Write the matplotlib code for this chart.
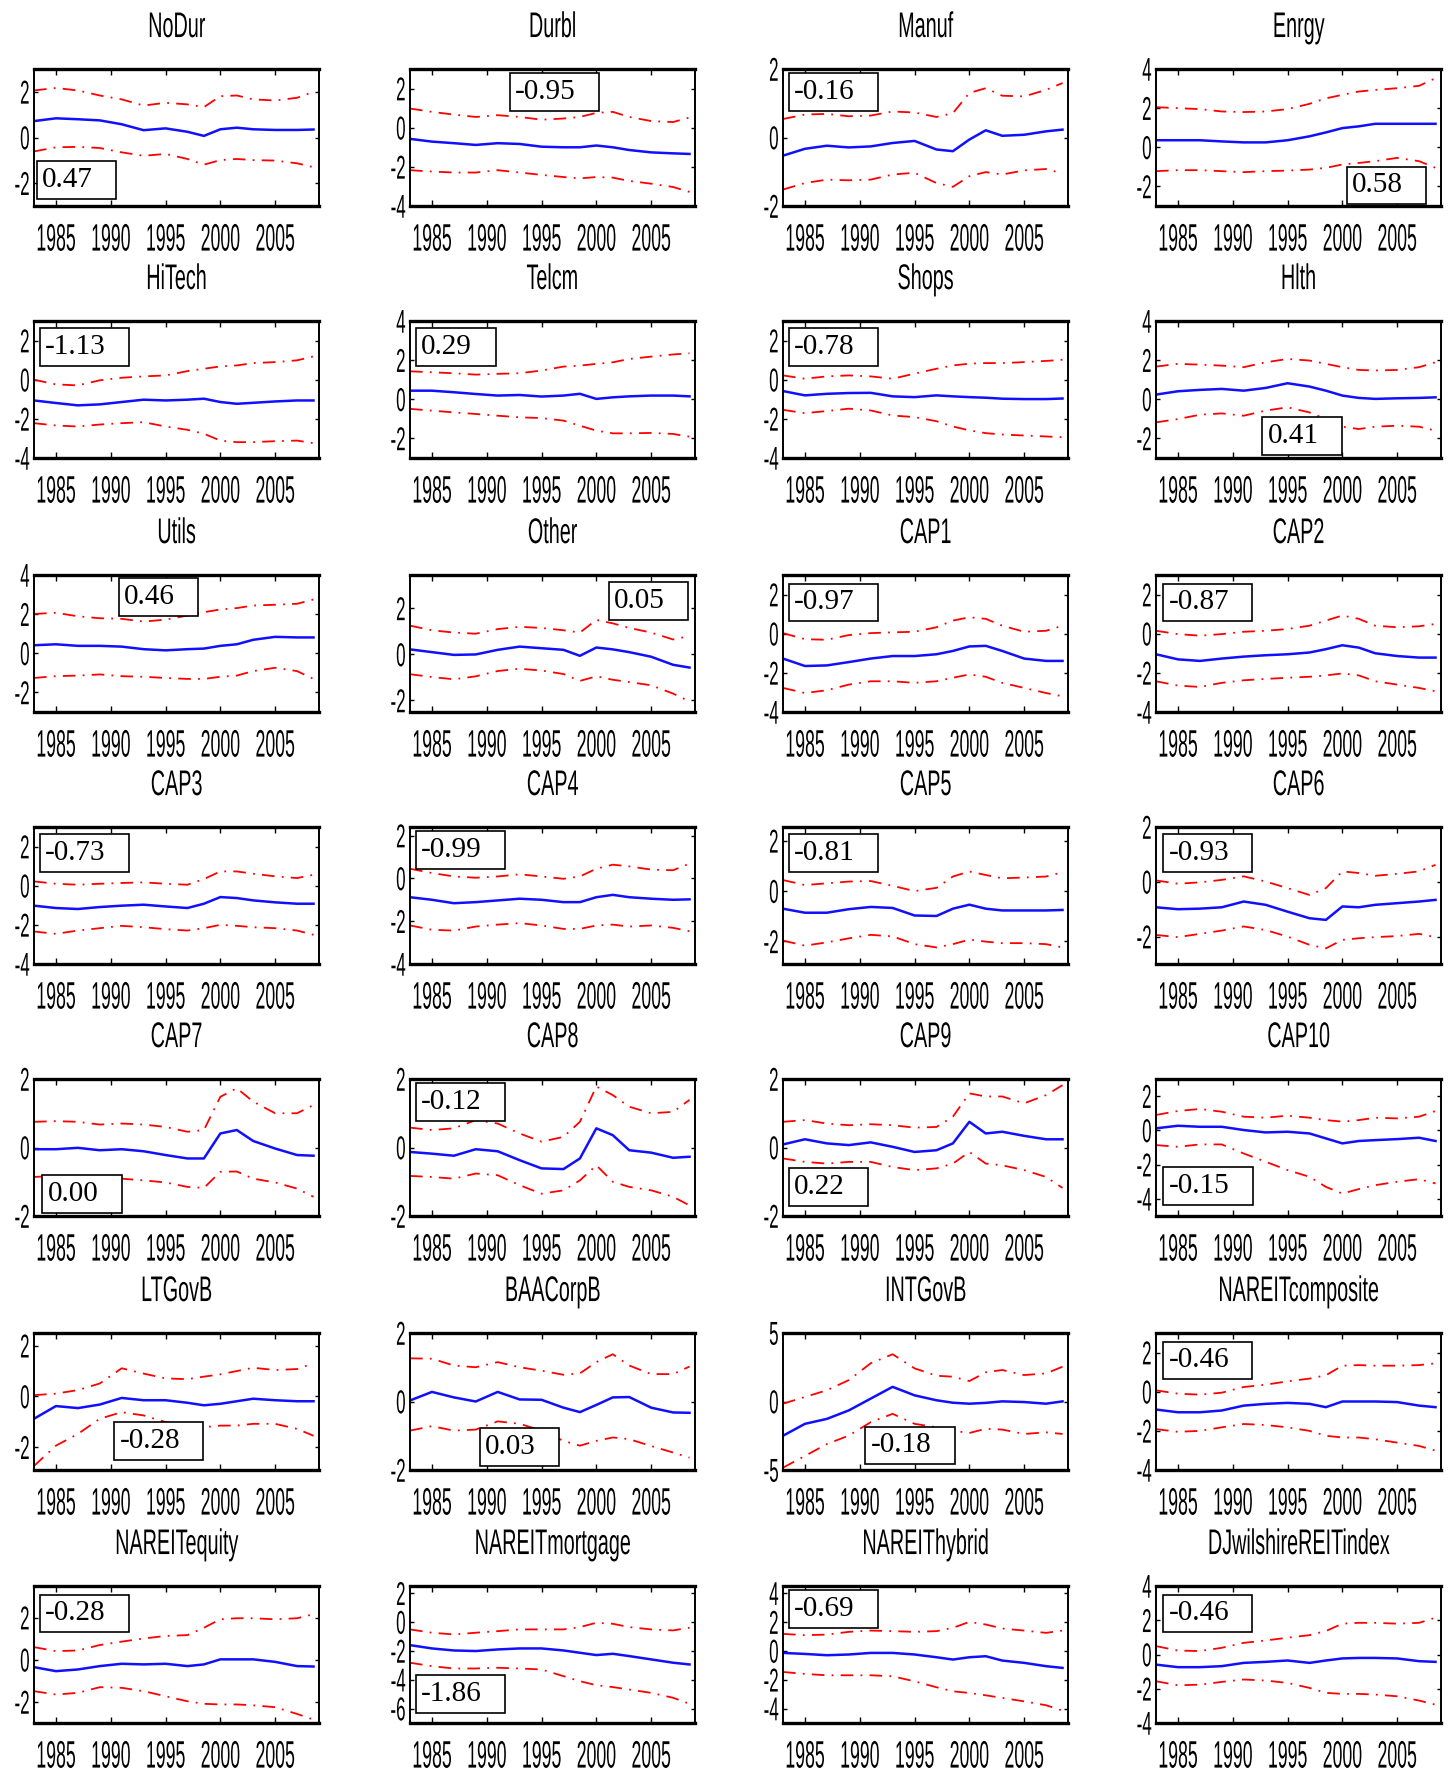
import matplotlib
matplotlib.use("Agg")
import matplotlib.pyplot as plt
from matplotlib.patheffects import AbstractPathEffect
from matplotlib.transforms import Affine2D
from matplotlib.path import Path

# ---------------- data ----------------
YEARS = [1983, 1985, 1987, 1989, 1991, 1993, 1995, 1997, 1998.5, 2000, 2001.5, 2003, 2005, 2007, 2008.5]
XTICKS = [1985, 1990, 1995, 2000, 2005]

NoDur_est = [0.72, 0.84, 0.80, 0.75, 0.58, 0.32, 0.40, 0.25, 0.07, 0.36, 0.43, 0.36, 0.33, 0.33, 0.35]
NoDur_hi = [2.06, 2.17, 2.06, 1.84, 1.67, 1.40, 1.52, 1.45, 1.33, 1.81, 1.84, 1.67, 1.62, 1.74, 2.00]
NoDur_lo = [-0.61, -0.43, -0.41, -0.46, -0.65, -0.80, -0.72, -0.94, -1.19, -0.99, -0.94, -0.99, -1.01, -1.13, -1.30]

Durbl_est = [-0.57, -0.71, -0.79, -0.88, -0.79, -0.83, -0.97, -1.00, -1.00, -0.91, -1.00, -1.14, -1.26, -1.31, -1.34]
Durbl_hi = [0.98, 0.81, 0.67, 0.55, 0.64, 0.55, 0.41, 0.47, 0.55, 0.76, 0.81, 0.55, 0.34, 0.29, 0.52]
Durbl_lo = [-2.17, -2.24, -2.29, -2.29, -2.17, -2.29, -2.41, -2.52, -2.59, -2.52, -2.55, -2.72, -2.86, -3.03, -3.28]

Manuf_est = [-0.53, -0.33, -0.24, -0.29, -0.26, -0.16, -0.10, -0.35, -0.40, -0.06, 0.21, 0.05, 0.08, 0.18, 0.23]
Manuf_hi = [0.54, 0.67, 0.69, 0.62, 0.64, 0.76, 0.73, 0.60, 0.71, 1.30, 1.44, 1.22, 1.20, 1.39, 1.59]
Manuf_lo = [-1.52, -1.33, -1.23, -1.25, -1.23, -1.08, -1.03, -1.33, -1.44, -1.13, -1.01, -1.08, -0.96, -0.92, -1.05]

Enrgy_est = [0.36, 0.36, 0.36, 0.30, 0.25, 0.25, 0.36, 0.56, 0.76, 0.98, 1.07, 1.20, 1.20, 1.20, 1.20]
Enrgy_hi = [2.05, 2.00, 1.95, 1.83, 1.80, 1.83, 1.95, 2.22, 2.50, 2.68, 2.85, 2.93, 3.02, 3.14, 3.53]
Enrgy_lo = [-1.22, -1.17, -1.17, -1.22, -1.27, -1.22, -1.19, -1.14, -1.05, -0.88, -0.80, -0.71, -0.54, -0.71, -1.05]

HiTech_est = [-1.06, -1.19, -1.31, -1.26, -1.14, -1.02, -1.06, -1.02, -0.97, -1.14, -1.23, -1.18, -1.11, -1.06, -1.06]
HiTech_hi = [0.00, -0.24, -0.29, -0.03, 0.10, 0.17, 0.22, 0.44, 0.56, 0.68, 0.73, 0.85, 0.90, 0.99, 1.19]
HiTech_lo = [-2.22, -2.34, -2.39, -2.29, -2.22, -2.17, -2.39, -2.56, -2.76, -3.11, -3.19, -3.19, -3.14, -3.11, -3.24]

Telcm_est = [0.44, 0.44, 0.36, 0.27, 0.19, 0.22, 0.14, 0.19, 0.28, 0.02, 0.10, 0.15, 0.19, 0.19, 0.15]
Telcm_hi = [1.43, 1.38, 1.33, 1.26, 1.30, 1.33, 1.47, 1.67, 1.72, 1.81, 1.89, 2.06, 2.18, 2.29, 2.35]
Telcm_lo = [-0.49, -0.58, -0.67, -0.75, -0.84, -0.92, -0.96, -1.09, -1.35, -1.60, -1.74, -1.74, -1.72, -1.77, -1.91]

Shops_est = [-0.58, -0.80, -0.72, -0.68, -0.67, -0.85, -0.89, -0.80, -0.85, -0.89, -0.92, -0.97, -0.99, -0.99, -0.96]
Shops_hi = [0.22, 0.05, 0.17, 0.22, 0.17, 0.05, 0.31, 0.56, 0.73, 0.82, 0.85, 0.85, 0.90, 0.96, 1.02]
Shops_lo = [-1.54, -1.71, -1.60, -1.48, -1.57, -1.83, -1.91, -2.12, -2.39, -2.59, -2.73, -2.80, -2.85, -2.90, -2.94]

Hlth_est = [0.24, 0.41, 0.48, 0.53, 0.44, 0.58, 0.82, 0.65, 0.44, 0.19, 0.07, 0.02, 0.05, 0.07, 0.10]
Hlth_hi = [1.67, 1.81, 1.77, 1.72, 1.64, 1.89, 2.06, 1.98, 1.81, 1.64, 1.50, 1.47, 1.50, 1.64, 1.89]
Hlth_lo = [-1.18, -1.01, -0.79, -0.72, -0.84, -0.58, -0.41, -0.67, -1.01, -1.40, -1.52, -1.40, -1.35, -1.40, -1.60]

Utils_est = [0.41, 0.46, 0.38, 0.38, 0.34, 0.21, 0.15, 0.21, 0.24, 0.38, 0.46, 0.69, 0.84, 0.81, 0.81]
Utils_hi = [2.01, 2.07, 1.89, 1.79, 1.76, 1.62, 1.72, 1.93, 2.10, 2.24, 2.31, 2.44, 2.48, 2.53, 2.75]
Utils_lo = [-1.26, -1.17, -1.14, -1.08, -1.17, -1.20, -1.26, -1.31, -1.31, -1.20, -1.14, -0.91, -0.74, -0.91, -1.31]

Other_est = [0.22, 0.10, -0.02, 0.00, 0.20, 0.34, 0.27, 0.20, -0.06, 0.30, 0.22, 0.10, -0.10, -0.45, -0.57]
Other_hi = [1.25, 1.05, 0.95, 0.90, 1.10, 1.20, 1.15, 1.05, 0.95, 1.50, 1.35, 1.15, 0.95, 0.65, 0.80]
Other_lo = [-0.86, -0.98, -1.08, -0.95, -0.72, -0.62, -0.70, -0.85, -1.15, -0.95, -1.10, -1.20, -1.34, -1.70, -2.04]

CAP1_est = [-1.27, -1.65, -1.62, -1.45, -1.27, -1.14, -1.14, -1.05, -0.88, -0.65, -0.62, -0.88, -1.27, -1.39, -1.39]
CAP1_hi = [0.03, -0.28, -0.31, -0.07, 0.03, 0.07, 0.10, 0.33, 0.67, 0.84, 0.76, 0.41, 0.10, 0.15, 0.41]
CAP1_lo = [-2.77, -3.03, -2.89, -2.60, -2.43, -2.43, -2.51, -2.43, -2.25, -2.08, -2.20, -2.51, -2.77, -3.03, -3.20]

CAP2_est = [-1.05, -1.31, -1.39, -1.27, -1.17, -1.10, -1.05, -0.96, -0.79, -0.59, -0.71, -1.00, -1.14, -1.22, -1.22]
CAP2_hi = [0.15, -0.02, -0.10, -0.02, 0.10, 0.15, 0.24, 0.41, 0.67, 0.93, 0.76, 0.41, 0.33, 0.38, 0.50]
CAP2_lo = [-2.43, -2.65, -2.72, -2.51, -2.38, -2.31, -2.25, -2.20, -2.13, -2.03, -2.13, -2.43, -2.60, -2.77, -2.94]

CAP3_est = [-1.02, -1.14, -1.19, -1.09, -1.02, -0.97, -1.06, -1.14, -0.92, -0.58, -0.63, -0.75, -0.85, -0.92, -0.92]
CAP3_hi = [0.22, 0.10, 0.05, 0.10, 0.14, 0.17, 0.10, 0.05, 0.34, 0.73, 0.73, 0.61, 0.48, 0.39, 0.56]
CAP3_lo = [-2.34, -2.46, -2.29, -2.17, -2.05, -2.12, -2.22, -2.29, -2.17, -2.00, -2.05, -2.12, -2.17, -2.29, -2.51]

CAP4_est = [-0.88, -1.00, -1.16, -1.11, -1.03, -0.95, -1.00, -1.11, -1.11, -0.88, -0.77, -0.88, -0.95, -1.00, -0.98]
CAP4_hi = [0.45, 0.25, 0.09, 0.03, 0.09, 0.19, 0.09, -0.02, 0.09, 0.45, 0.64, 0.56, 0.41, 0.38, 0.69]
CAP4_lo = [-2.20, -2.40, -2.44, -2.25, -2.16, -2.09, -2.20, -2.36, -2.36, -2.20, -2.16, -2.25, -2.20, -2.31, -2.47]

CAP5_est = [-0.70, -0.86, -0.86, -0.72, -0.63, -0.67, -0.97, -0.99, -0.70, -0.54, -0.70, -0.77, -0.77, -0.77, -0.75]
CAP5_hi = [0.44, 0.24, 0.31, 0.38, 0.40, 0.21, 0.00, 0.13, 0.58, 0.78, 0.64, 0.51, 0.54, 0.58, 0.75]
CAP5_lo = [-1.97, -2.17, -2.04, -1.88, -1.74, -1.80, -2.11, -2.24, -2.11, -1.93, -2.01, -2.07, -2.07, -2.11, -2.24]

CAP6_est = [-0.93, -1.00, -0.98, -0.93, -0.72, -0.84, -1.09, -1.33, -1.39, -0.90, -0.93, -0.84, -0.78, -0.72, -0.66]
CAP6_hi = [0.05, -0.07, -0.02, 0.07, 0.20, 0.01, -0.23, -0.48, -0.23, 0.38, 0.32, 0.22, 0.29, 0.38, 0.62]
CAP6_lo = [-1.94, -2.02, -1.90, -1.78, -1.63, -1.76, -2.00, -2.30, -2.43, -2.12, -2.06, -2.02, -1.98, -1.90, -2.02]

CAP7_est = [-0.05, -0.05, -0.01, -0.08, -0.05, -0.11, -0.22, -0.32, -0.32, 0.41, 0.51, 0.19, -0.03, -0.22, -0.24]
CAP7_hi = [0.75, 0.77, 0.75, 0.67, 0.70, 0.67, 0.60, 0.46, 0.51, 1.48, 1.73, 1.34, 1.00, 1.00, 1.24]
CAP7_lo = [-0.86, -0.83, -0.89, -0.89, -0.91, -0.96, -1.02, -1.15, -1.18, -0.71, -0.70, -0.91, -1.02, -1.20, -1.44]

CAP8_est = [-0.13, -0.18, -0.24, -0.05, -0.11, -0.37, -0.61, -0.63, -0.32, 0.56, 0.36, -0.08, -0.15, -0.30, -0.27]
CAP8_hi = [0.58, 0.51, 0.56, 0.80, 0.70, 0.41, 0.17, 0.31, 0.75, 1.78, 1.53, 1.19, 1.00, 1.04, 1.39]
CAP8_lo = [-0.83, -0.86, -0.91, -0.76, -0.81, -1.10, -1.35, -1.25, -0.96, -0.52, -1.00, -1.15, -1.25, -1.44, -1.69]

CAP9_est = [0.09, 0.24, 0.12, 0.07, 0.15, 0.02, -0.13, -0.08, 0.12, 0.75, 0.41, 0.46, 0.34, 0.24, 0.24]
CAP9_hi = [0.75, 0.80, 0.70, 0.65, 0.68, 0.65, 0.58, 0.60, 0.90, 1.58, 1.49, 1.49, 1.29, 1.53, 1.82]
CAP9_lo = [-0.32, -0.42, -0.47, -0.42, -0.42, -0.57, -0.66, -0.61, -0.47, -0.13, -0.47, -0.52, -0.66, -0.86, -1.18]

CAP10_est = [0.12, 0.27, 0.21, 0.21, 0.02, -0.12, -0.08, -0.18, -0.47, -0.76, -0.62, -0.57, -0.51, -0.43, -0.62]
CAP10_hi = [0.90, 1.13, 1.25, 1.09, 0.80, 0.74, 0.86, 0.74, 0.60, 0.51, 0.60, 0.74, 0.70, 0.80, 1.13]
CAP10_lo = [-0.86, -0.96, -0.82, -0.82, -1.35, -1.83, -2.32, -2.71, -3.30, -3.69, -3.43, -3.20, -3.00, -2.85, -3.10]

LTGovB_est = [-0.88, -0.38, -0.46, -0.32, -0.06, -0.15, -0.15, -0.25, -0.35, -0.29, -0.19, -0.09, -0.15, -0.19, -0.19]
LTGovB_hi = [0.05, 0.11, 0.25, 0.51, 1.11, 0.90, 0.71, 0.68, 0.78, 0.87, 1.00, 1.13, 1.04, 1.08, 1.31]
LTGovB_lo = [-2.74, -1.94, -1.48, -0.88, -0.62, -0.75, -1.01, -1.15, -1.21, -1.15, -1.15, -1.08, -1.08, -1.28, -1.55]

BAACorpB_est = [0.03, 0.28, 0.12, 0.00, 0.28, 0.06, 0.05, -0.18, -0.31, -0.10, 0.12, 0.13, -0.18, -0.32, -0.33]
BAACorpB_hi = [1.26, 1.25, 1.05, 1.00, 1.15, 1.00, 0.90, 0.78, 0.82, 1.15, 1.38, 1.05, 0.80, 0.80, 1.02]
BAACorpB_lo = [-0.85, -0.72, -0.85, -0.82, -0.58, -0.65, -0.85, -1.15, -1.29, -1.15, -1.05, -1.10, -1.30, -1.49, -1.64]

INTGovB_est = [-2.50, -1.63, -1.27, -0.65, 0.21, 1.07, 0.45, 0.09, -0.09, -0.16, -0.10, 0.01, -0.04, -0.16, 0.01]
INTGovB_hi = [-0.16, 0.33, 0.82, 1.56, 2.79, 3.45, 2.42, 1.88, 1.81, 1.49, 2.13, 2.30, 1.93, 2.05, 2.54]
INTGovB_lo = [-4.83, -3.97, -3.11, -2.49, -1.51, -0.90, -1.63, -1.88, -2.13, -2.30, -1.99, -2.05, -2.37, -2.25, -2.37]

NAREITcomposite_est = [-0.91, -1.05, -1.05, -0.96, -0.71, -0.62, -0.57, -0.62, -0.79, -0.50, -0.50, -0.50, -0.53, -0.71, -0.79]
NAREITcomposite_hi = [0.07, -0.10, -0.15, -0.05, 0.24, 0.36, 0.53, 0.67, 0.84, 1.33, 1.36, 1.33, 1.33, 1.36, 1.45]
NAREITcomposite_lo = [-1.91, -2.05, -2.00, -1.82, -1.65, -1.70, -1.82, -2.00, -2.25, -2.34, -2.34, -2.43, -2.60, -2.77, -3.01]

NAREITequity_est = [-0.35, -0.54, -0.46, -0.30, -0.19, -0.22, -0.19, -0.30, -0.22, 0.02, 0.02, 0.02, -0.10, -0.30, -0.32]
NAREITequity_hi = [0.60, 0.41, 0.44, 0.70, 0.86, 1.01, 1.13, 1.17, 1.52, 1.92, 1.97, 1.97, 1.92, 1.97, 2.16]
NAREITequity_lo = [-1.49, -1.65, -1.57, -1.30, -1.33, -1.49, -1.73, -1.97, -2.09, -2.12, -2.12, -2.16, -2.25, -2.57, -2.84]

NAREITmortgage_est = [-1.60, -1.83, -1.97, -2.01, -1.90, -1.83, -1.83, -1.97, -2.13, -2.29, -2.20, -2.36, -2.59, -2.82, -2.94]
NAREITmortgage_hi = [-0.51, -0.74, -0.86, -0.74, -0.63, -0.51, -0.51, -0.51, -0.35, -0.05, -0.12, -0.35, -0.51, -0.58, -0.39]
NAREITmortgage_lo = [-2.82, -3.06, -3.22, -3.22, -3.17, -3.22, -3.29, -3.75, -4.10, -4.38, -4.51, -4.68, -4.91, -5.25, -5.67]

NAREIThybrid_est = [-0.14, -0.21, -0.30, -0.25, -0.14, -0.14, -0.25, -0.44, -0.60, -0.44, -0.37, -0.67, -0.83, -1.06, -1.18]
NAREIThybrid_hi = [1.18, 1.09, 1.13, 1.32, 1.41, 1.37, 1.32, 1.37, 1.60, 2.01, 1.83, 1.55, 1.41, 1.25, 1.41]
NAREIThybrid_lo = [-1.46, -1.60, -1.69, -1.69, -1.69, -1.76, -2.11, -2.52, -2.80, -2.92, -3.08, -3.26, -3.50, -3.77, -4.14]

DJwilshire_est = [-0.59, -0.74, -0.74, -0.68, -0.49, -0.43, -0.35, -0.49, -0.35, -0.23, -0.20, -0.20, -0.23, -0.39, -0.43]
DJwilshire_hi = [0.49, 0.23, 0.20, 0.39, 0.68, 0.82, 0.98, 1.13, 1.37, 1.80, 1.85, 1.85, 1.80, 1.85, 2.15]
DJwilshire_lo = [-1.56, -1.80, -1.76, -1.60, -1.46, -1.52, -1.66, -1.95, -2.24, -2.30, -2.30, -2.34, -2.44, -2.69, -2.93]

TITLES = ["NoDur", "Durbl", "Manuf", "Enrgy",
          "HiTech", "Telcm", "Shops", "Hlth",
          "Utils", "Other", "CAP1", "CAP2",
          "CAP3", "CAP4", "CAP5", "CAP6",
          "CAP7", "CAP8", "CAP9", "CAP10",
          "LTGovB", "BAACorpB", "INTGovB", "NAREITcomposite",
          "NAREITequity", "NAREITmortgage", "NAREIThybrid", "DJwilshireREITindex"]

BOX_LABELS = ["0.47", "-0.95", "-0.16", "0.58",
              "-1.13", "0.29", "-0.78", "0.41",
              "0.46", "0.05", "-0.97", "-0.87",
              "-0.73", "-0.99", "-0.81", "-0.93",
              "0.00", "-0.12", "0.22", "-0.15",
              "-0.28", "0.03", "-0.18", "-0.46",
              "-0.28", "-1.86", "-0.69", "-0.46"]

EST = [NoDur_est, Durbl_est, Manuf_est, Enrgy_est, HiTech_est, Telcm_est, Shops_est, Hlth_est,
       Utils_est, Other_est, CAP1_est, CAP2_est, CAP3_est, CAP4_est, CAP5_est, CAP6_est,
       CAP7_est, CAP8_est, CAP9_est, CAP10_est, LTGovB_est, BAACorpB_est, INTGovB_est, NAREITcomposite_est,
       NAREITequity_est, NAREITmortgage_est, NAREIThybrid_est, DJwilshire_est]
HI = [NoDur_hi, Durbl_hi, Manuf_hi, Enrgy_hi, HiTech_hi, Telcm_hi, Shops_hi, Hlth_hi,
      Utils_hi, Other_hi, CAP1_hi, CAP2_hi, CAP3_hi, CAP4_hi, CAP5_hi, CAP6_hi,
      CAP7_hi, CAP8_hi, CAP9_hi, CAP10_hi, LTGovB_hi, BAACorpB_hi, INTGovB_hi, NAREITcomposite_hi,
      NAREITequity_hi, NAREITmortgage_hi, NAREIThybrid_hi, DJwilshire_hi]
LO = [NoDur_lo, Durbl_lo, Manuf_lo, Enrgy_lo, HiTech_lo, Telcm_lo, Shops_lo, Hlth_lo,
      Utils_lo, Other_lo, CAP1_lo, CAP2_lo, CAP3_lo, CAP4_lo, CAP5_lo, CAP6_lo,
      CAP7_lo, CAP8_lo, CAP9_lo, CAP10_lo, LTGovB_lo, BAACorpB_lo, INTGovB_lo, NAREITcomposite_lo,
      NAREITequity_lo, NAREITmortgage_lo, NAREIThybrid_lo, DJwilshire_lo]

# ---------------- axis scales & layout ----------------
YLIMS = [(-3, 3), (-4, 3), (-2, 2), (-3, 4),
         (-4, 3), (-3, 4), (-4, 3), (-3, 4),
         (-3, 4), (-2.5, 3.45), (-4, 3), (-4, 3),
         (-4, 3), (-4, 2.4), (-2.9, 2.55), (-3, 2),
         (-2, 2), (-2, 2), (-2, 2), (-5, 3),
         (-2.9, 2.5), (-2, 2), (-5, 5), (-4, 3),
         (-3, 3.5), (-7, 2.5), (-5, 4.5), (-4, 4)]
YTICKS = [[-2, 0, 2], [-4, -2, 0, 2], [-2, 0, 2], [-2, 0, 2, 4],
          [-4, -2, 0, 2], [-2, 0, 2, 4], [-4, -2, 0, 2], [-2, 0, 2, 4],
          [-2, 0, 2, 4], [-2, 0, 2], [-4, -2, 0, 2], [-4, -2, 0, 2],
          [-4, -2, 0, 2], [-4, -2, 0, 2], [-2, 0, 2], [-2, 0, 2],
          [-2, 0, 2], [-2, 0, 2], [-2, 0, 2], [-4, -2, 0, 2],
          [-2, 0, 2], [-2, 0, 2], [-5, 0, 5], [-4, -2, 0, 2],
          [-2, 0, 2], [-6, -4, -2, 0, 2], [-4, -2, 0, 2, 4], [-4, -2, 0, 2, 4]]
# centre of each value box, axes fraction
BOX_POS = [(0.14, 0.19), (0.48, 0.83), (0.152, 0.83), (0.80, 0.15),
           (0.152, 0.81), (0.152, 0.81), (0.152, 0.81), (0.504, 0.16),
           (0.428, 0.84), (0.828, 0.81), (0.152, 0.80), (0.156, 0.80),
           (0.152, 0.81), (0.152, 0.83), (0.152, 0.81), (0.156, 0.81),
           (0.16, 0.16), (0.152, 0.83), (0.152, 0.21), (0.156, 0.22),
           (0.412, 0.21), (0.376, 0.17), (0.42, 0.18), (0.156, 0.80),
           (0.152, 0.80), (0.152, 0.21), (0.152, 0.83), (0.156, 0.80)]

W_PX, H_PX = 1452, 1775
COL_LEFT = [34, 410, 783, 1156]
ROW_TOP = [69, 321, 575, 827, 1079, 1333, 1586]
AX_W, AX_H = 285, 137
BOX_W_PX = 74  # approximate box width used to place the text inside


class Squash(AbstractPathEffect):
    """Rescale text glyph outlines (narrow/tall look of the original)."""

    def __init__(self, sx=1.0, sy=1.0, hanchor="center", vanchor="center"):
        super().__init__()
        self.sx, self.sy = sx, sy
        self.hanchor, self.vanchor = hanchor, vanchor

    def draw_path(self, renderer, gc, tpath, affine, rgbFace=None):
        ext = tpath.get_extents()
        if self.hanchor == "right":
            cx = ext.x1
        elif self.hanchor == "left":
            cx = ext.x0
        else:
            cx = 0.5 * (ext.x0 + ext.x1)
        if self.vanchor == "top":
            cy = ext.y1
        elif self.vanchor == "baseline":
            cy = 0.0
        else:
            cy = 0.5 * (ext.y0 + ext.y1)
        t = Affine2D().translate(-cx, -cy).scale(self.sx, self.sy).translate(cx, cy)
        renderer.draw_path(gc, tpath, t + affine, rgbFace)


def matlab_box(x0, y0, width, height, mutation_size):
    """Text box with small left margin and wide right margin (MATLAB style)."""
    pl, pr, pv = 0.18 * mutation_size, 0.8 * mutation_size, 0.2 * mutation_size
    x1, y1 = x0 + width + pr, y0 + height + pv
    x0, y0 = x0 - pl, y0 - pv
    return Path([(x0, y0), (x1, y0), (x1, y1), (x0, y1), (x0, y0)],
                [Path.MOVETO, Path.LINETO, Path.LINETO, Path.LINETO, Path.CLOSEPOLY])


plt.rcParams.update({
    "font.family": ["Liberation Sans", "DejaVu Sans"],
    "axes.unicode_minus": False,
    "xtick.direction": "in",
    "ytick.direction": "in",
    "xtick.top": True,
    "ytick.right": True,
})

fig = plt.figure(figsize=(W_PX / 100, H_PX / 100), dpi=100)
DASHDOT = (0, (7, 4, 1, 4))

for i, title in enumerate(TITLES):
    r, c = divmod(i, 4)
    left = COL_LEFT[c] / W_PX
    bottom = (H_PX - ROW_TOP[r] - AX_H) / H_PX
    ax = fig.add_axes([left, bottom, AX_W / W_PX, AX_H / H_PX])

    ax.plot(YEARS, HI[i], color="#ff0000", lw=1.3, linestyle=DASHDOT)
    ax.plot(YEARS, LO[i], color="#ff0000", lw=1.3, linestyle=DASHDOT)
    ax.plot(YEARS, EST[i], color="#1010ff", lw=1.8)

    ax.set_xlim(1983, 2009)
    ax.set_ylim(*YLIMS[i])
    ax.set_xticks(XTICKS)
    ax.set_xticklabels([str(y) for y in XTICKS])
    ax.set_yticks(YTICKS[i])
    ax.set_yticklabels([str(t) for t in YTICKS[i]])
    ax.tick_params(axis="x", which="major", length=4, width=1, labelsize=17, pad=12.5)
    ax.tick_params(axis="y", which="major", length=3, width=1, labelsize=17, pad=3)

    for lab in ax.get_xticklabels():
        lab.set_path_effects([Squash(0.75, 1.62, "center", "top")])
    for lab in ax.get_yticklabels():
        lab.set_path_effects([Squash(0.72, 1.4, "right", "center")])

    for side in ("top", "bottom"):
        ax.spines[side].set_linewidth(2.4)
    for side in ("left", "right"):
        ax.spines[side].set_linewidth(1.4)

    t = ax.set_title(title, fontsize=19, pad=23)
    t.set_path_effects([Squash(0.75, 1.35, "center", "baseline")])

    bx, by = BOX_POS[i]
    tx = bx - (BOX_W_PX / 2 - 5) / AX_W
    ax.text(tx, by, BOX_LABELS[i], transform=ax.transAxes, ha="left", va="center",
            fontsize=21, family="Liberation Serif", zorder=6,
            bbox=dict(boxstyle=matlab_box, fc="white", ec="black", lw=1.2))

fig.savefig("out.png", dpi=100)
